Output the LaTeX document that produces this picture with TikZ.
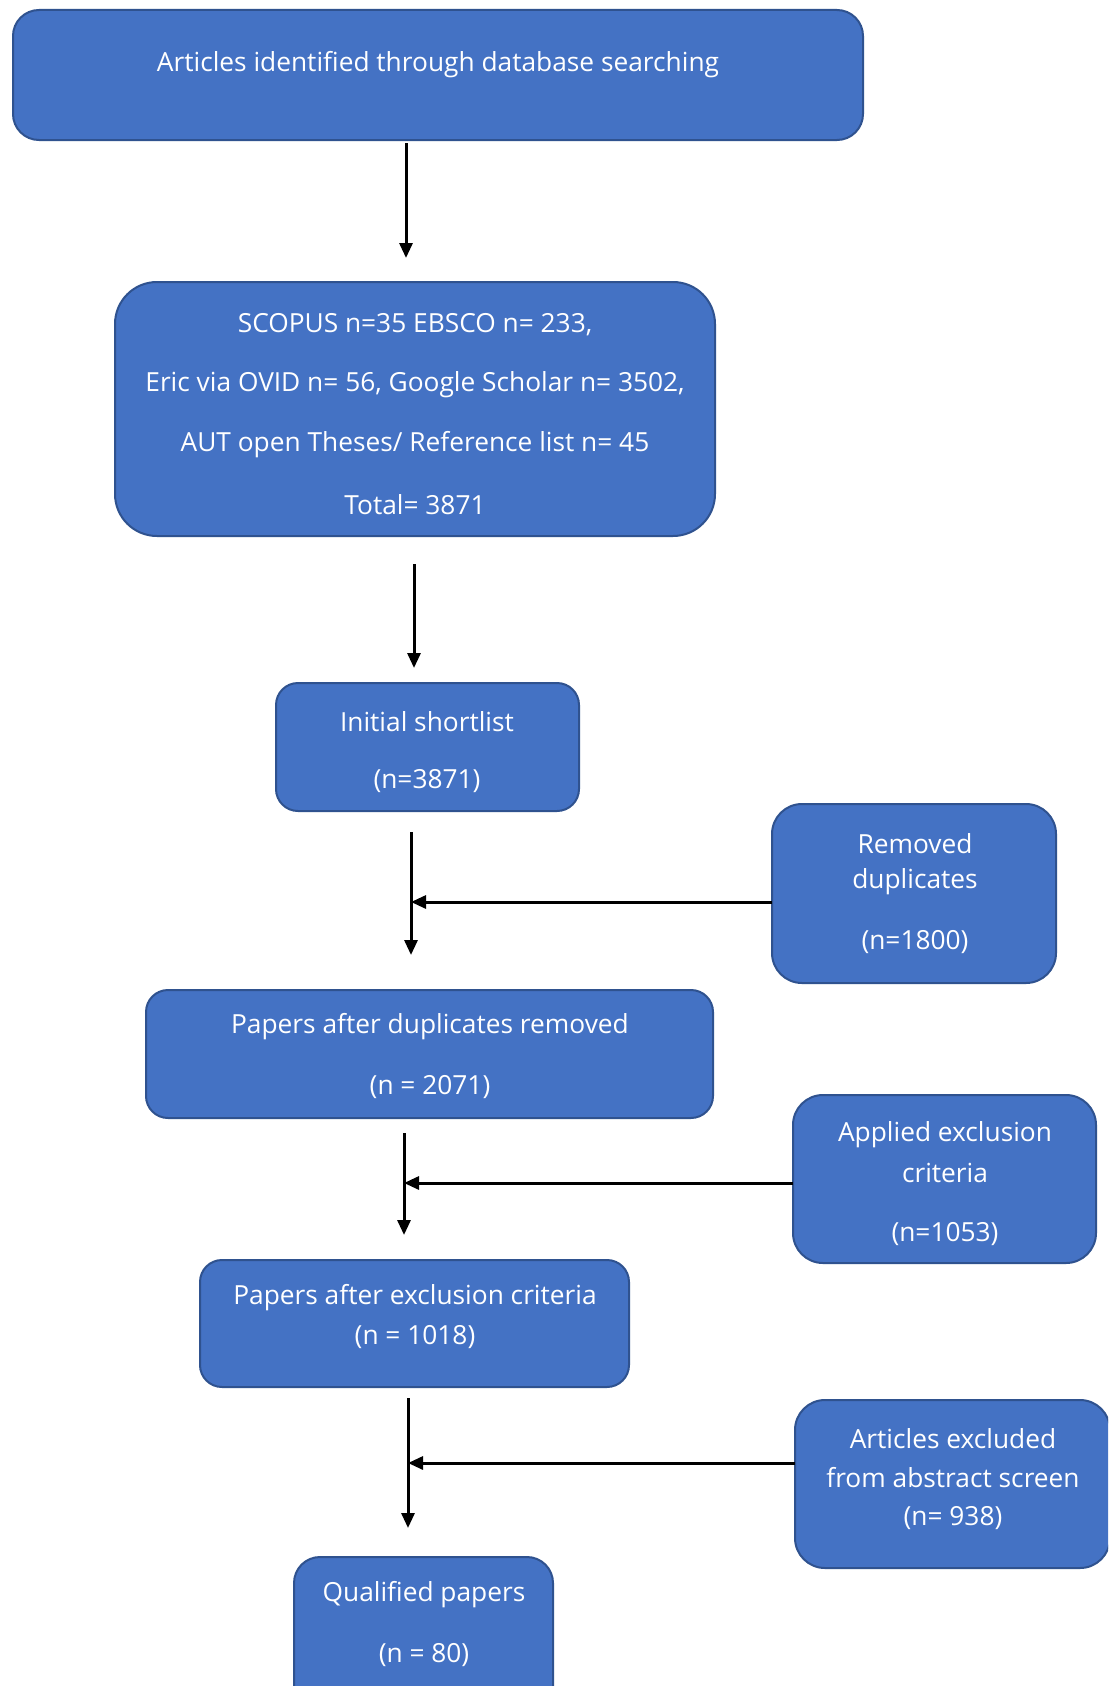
\documentclass[tikz,border=0pt]{standalone}
\usepackage{fontspec}
\setmainfont{Open Sans}
\usetikzlibrary{arrows.meta}
\definecolor{boxfill}{HTML}{4472C4}
\definecolor{boxdraw}{HTML}{2F528F}
\tikzset{
  flowbox/.style={draw=boxdraw, line width=2pt, fill=boxfill, inner sep=0pt},
  txt/.style={text=white, font=\fontsize{26.3}{31}\selectfont, inner sep=0pt, anchor=center},
  conn/.style={line width=3pt, -{Triangle[width=13pt,length=15pt]}},
}
\begin{document}
\begin{tikzpicture}[x=1pt,y=-1pt]
\clip (0,0) rectangle (1108,1686);
\fill[white] (0,0) rectangle (1108,1686);
% boxes
\draw[flowbox, rounded corners=26pt] (13,10) rectangle (863,140);
\node (b1) at (438,75) {};
\draw[flowbox, rounded corners=42pt] (115,282) rectangle (715,536);
\node (b2) at (415,409) {};
\draw[flowbox, rounded corners=22pt] (276,683) rectangle (579,811);
\node (b3) at (427,747) {};
\draw[flowbox, rounded corners=30pt] (772,804) rectangle (1056,983);
\node (r1) at (914,893) {};
\draw[flowbox, rounded corners=22pt] (146,990) rectangle (713,1118);
\node (b4) at (429,1054) {};
\draw[flowbox, rounded corners=30pt] (793,1095) rectangle (1096,1263);
\node (r2) at (944,1179) {};
\draw[flowbox, rounded corners=22pt] (200,1260) rectangle (629,1387);
\node (b5) at (414,1323) {};
\draw[flowbox, rounded corners=30pt] (795,1400) rectangle (1110,1568);
\node (r3) at (952,1484) {};
\draw[flowbox, rounded corners=26pt] (294,1557) rectangle (553,1720);
\node (b6) at (423,1620) {};
% texts
\node[txt] (t1) at (438,65) {Articles identified through database searching};
\node[txt] (t2a) at (415,325) {SCOPUS n=35 EBSCO n= 233,};
\node[txt] (t2b) at (415,385) {Eric via OVID n= 56, Google Scholar n= 3502,};
\node[txt] (t2c) at (415,445) {AUT open Theses/ Reference list n= 45};
\node[txt] (t2d) at (415,505) {Total= 3871};
\node[txt] (t3a) at (427,722) {Initial shortlist};
\node[txt] (t3b) at (427,781) {(n=3871)};
\node[txt] (r1a) at (915,844) {Removed};
\node[txt] (r1b) at (915,882) {duplicates};
\node[txt] (r1c) at (915,942) {(n=1800)};
\node[txt] (t4a) at (430,1027) {Papers after duplicates removed};
\node[txt] (t4b) at (430,1087) {(n = 2071)};
\node[txt] (r2a) at (945,1135) {Applied exclusion};
\node[txt] (r2b) at (945,1173) {criteria};
\node[txt] (r2c) at (945,1234) {(n=1053)};
\node[txt] (t5a) at (415,1298) {Papers after exclusion criteria};
\node[txt] (t5b) at (415,1337) {(n = 1018)};
\node[txt] (r3a) at (953,1439) {Articles excluded};
\node[txt] (r3b) at (953,1478) {from abstract screen};
\node[txt] (r3c) at (953,1518) {(n= 938)};
\node[txt] (t6a) at (424,1595) {Qualified papers};
\node[txt] (t6b) at (424,1655) {(n = 80)};
% connectors
\coordinate (a1s) at (406,143); \coordinate (a1e) at (406,258);
\coordinate (a2s) at (414,564); \coordinate (a2e) at (414,668);
\coordinate (a3s) at (411,832); \coordinate (a3e) at (411,955);
\coordinate (a4s) at (404,1133); \coordinate (a4e) at (404,1235);
\coordinate (a5s) at (408,1398); \coordinate (a5e) at (408,1528);
\coordinate (h1) at (411,902); \coordinate (h1s) at (772,902);
\coordinate (h2) at (404,1183); \coordinate (h2s) at (793,1183);
\coordinate (h3) at (408,1463); \coordinate (h3s) at (795,1463);
\draw[conn] (a1s) -- (a1e);
\draw[conn] (a2s) -- (a2e);
\draw[conn] (a3s) -- (a3e);
\draw[conn] (a4s) -- (a4e);
\draw[conn] (a5s) -- (a5e);
\draw[conn] (h1s) -- (h1);
\draw[conn] (h2s) -- (h2);
\draw[conn] (h3s) -- (h3);
\end{tikzpicture}
\end{document}
